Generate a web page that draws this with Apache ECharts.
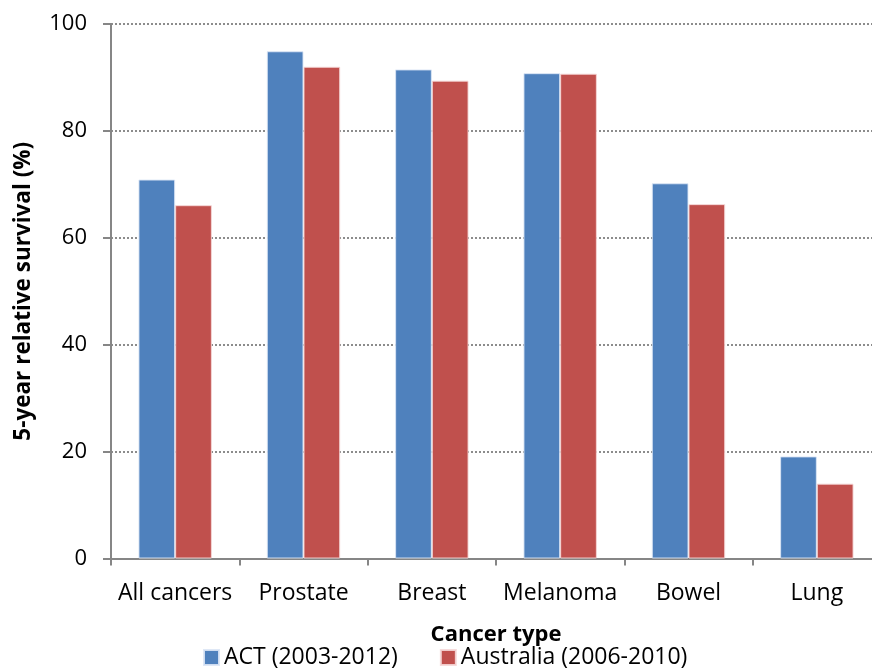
<!DOCTYPE html>
<html>
<head>
<meta charset="utf-8">
<script src="https://cdn.jsdelivr.net/npm/echarts@6/dist/echarts.min.js"></script>
<style>
  html, body { margin: 0; padding: 0; background: #fff; }
  #chart { width: 872px; height: 670px; }
</style>
</head>
<body>
<div id="chart"></div>
<script>
// Cancer types along the x axis
const categories = ['All cancers', 'Prostate', 'Breast', 'Melanoma', 'Bowel', 'Lung'];

// 5-year relative survival (%)
const actValues = [70.9, 94.9, 91.5, 90.8, 70.2, 19.1];
const australiaValues = [66.1, 92.0, 89.4, 90.7, 66.3, 14.0];

const seriesNames = ['ACT (2003-2012)', 'Australia (2006-2010)'];
const yTicks = [0, 20, 40, 60, 80, 100];

const FONT = '"Open Sans", sans-serif';

const chart = echarts.init(document.getElementById('chart'), null, { renderer: 'canvas' });

chart.setOption({
  animation: false,
  backgroundColor: '#ffffff',
  textStyle: { fontFamily: FONT, color: '#000' },
  grid: { left: 111, top: 24, width: 770, height: 534.5, containLabel: false, outerBoundsMode: 'none' },
  legend: {
    bottom: -4,
    left: 198,
    itemWidth: 15,
    itemHeight: 15,
    itemGap: 42,
    icon: 'rect',
    textStyle: { fontSize: 23, fontFamily: FONT, color: '#000' },
    data: seriesNames
  },
  xAxis: {
    type: 'category',
    data: categories,
    name: 'Cancer type',
    nameLocation: 'middle',
    nameGap: 65,
    nameTextStyle: { fontSize: 22, fontWeight: 'bold', fontFamily: FONT, color: '#000' },
    axisLine: { lineStyle: { color: '#868686', width: 2 } },
    axisTick: { show: true, length: 7, alignWithLabel: false, lineStyle: { color: '#868686', width: 2 } },
    axisLabel: { interval: 0, fontSize: 23, color: '#000', margin: 23, fontFamily: FONT },
    splitLine: { show: false }
  },
  yAxis: {
    type: 'value',
    min: yTicks[0],
    max: yTicks[yTicks.length - 1],
    interval: 20,
    name: '5-year relative survival (%)',
    nameLocation: 'middle',
    nameGap: 76,
    nameRotate: 90,
    nameTextStyle: { fontSize: 22.5, fontWeight: 'bold', fontFamily: FONT, color: '#000' },
    axisLine: { show: true, lineStyle: { color: '#868686', width: 2 } },
    axisTick: { show: true, length: 8, inside: false, lineStyle: { color: '#868686', width: 2 } },
    axisLabel: { fontSize: 22, color: '#000', margin: 24, fontFamily: FONT },
    splitLine: { show: true, lineStyle: { color: '#8c8c8c', width: 2, type: [2, 2] } }
  },
  series: [
    {
      name: seriesNames[0],
      type: 'bar',
      data: actValues,
      barWidth: 36.7,
      barGap: '0%',
      itemStyle: { color: '#4F81BD', borderColor: 'rgba(220,230,245,0.9)', borderWidth: 1 }
    },
    {
      name: seriesNames[1],
      type: 'bar',
      data: australiaValues,
      barWidth: 36.7,
      barGap: '0%',
      itemStyle: { color: '#C0504D', borderColor: 'rgba(245,215,215,0.9)', borderWidth: 1 }
    }
  ]
});
</script>
</body>
</html>
